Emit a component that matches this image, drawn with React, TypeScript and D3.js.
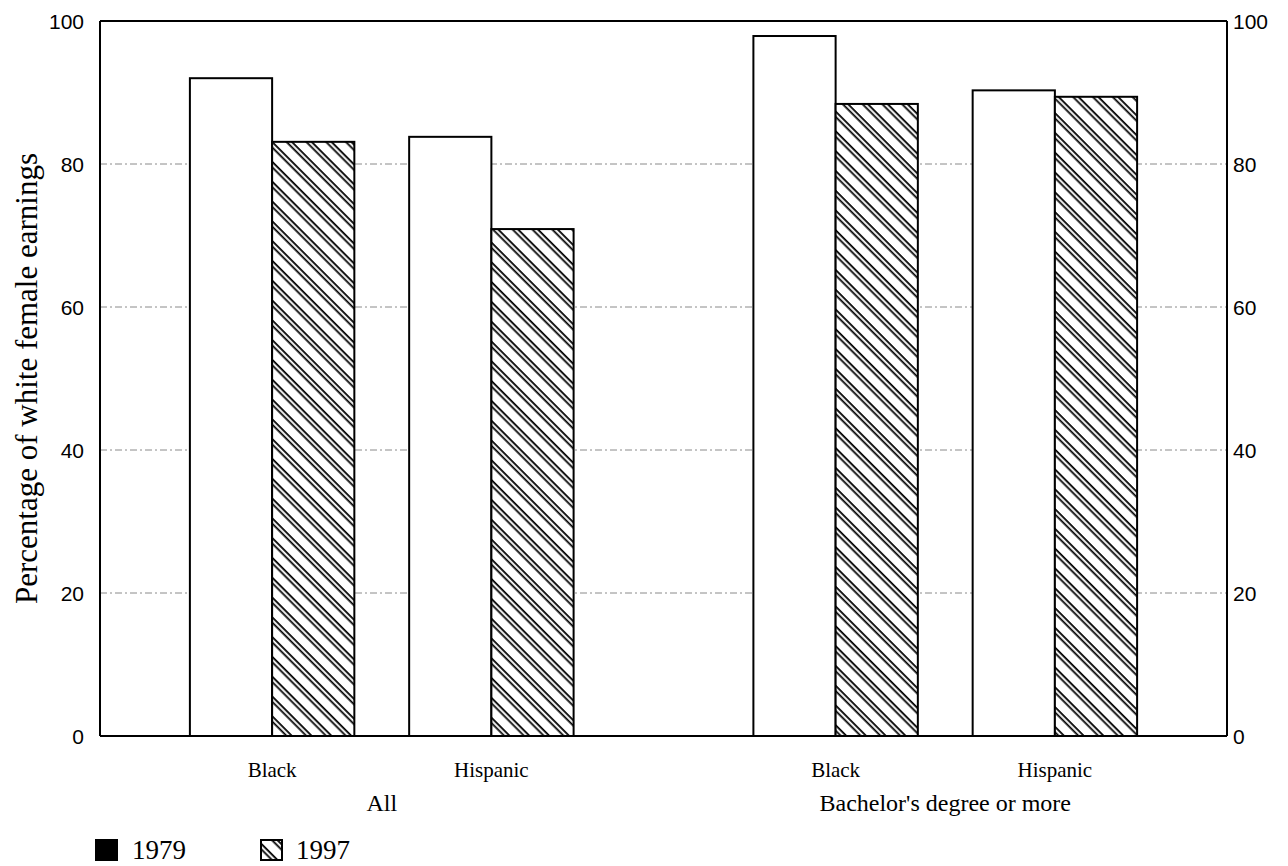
import React from "react";
import * as d3 from "d3";

const groups = ["All", "Bachelor's degree or more"];
const categories = ["Black", "Hispanic"];
const series = ["1979", "1997"];
// order: [All-Black, All-Hispanic], [Bachelor-Black, Bachelor-Hispanic]
const values1979 = [[92.0, 83.8], [97.9, 90.3]];
const values1997 = [[83.1, 70.9], [88.4, 89.4]];
const yTicks = [0, 20, 40, 60, 80, 100];
const gridTicks = [20, 40, 60, 80];

const W = 1288;
const H = 866;
const left = 100;
const right = 1227;
const top = 21;
const bottom = 736;

const serif = "'Liberation Serif', 'Times New Roman', serif";
const sans = "'Liberation Sans', Arial, Helvetica, sans-serif";

export default function App() {
  const y = d3.scaleLinear().domain([0, 100]).range([bottom, top]);
  const xGroup = d3.scaleBand<string>().domain(groups).range([left, right]).padding(0);
  const xCat = d3
    .scaleBand<string>()
    .domain(categories)
    .range([0, xGroup.bandwidth()])
    .paddingInner(0.25)
    .paddingOuter(0.41);
  const xSer = d3.scaleBand<string>().domain(series).range([0, xCat.bandwidth()]).padding(0);

  const bars: React.ReactNode[] = [];
  groups.forEach((g, gi) => {
    categories.forEach((c, ci) => {
      const vals = [values1979[gi][ci], values1997[gi][ci]];
      series.forEach((s, si) => {
        const x0 = (xGroup(g) as number) + (xCat(c) as number) + (xSer(s) as number);
        const v = vals[si];
        bars.push(
          <rect
            key={`${g}-${c}-${s}`}
            x={x0}
            y={y(v)}
            width={xSer.bandwidth()}
            height={y(0) - y(v)}
            fill={si === 0 ? "#ffffff" : "url(#hatch)"}
            stroke="#000"
            strokeWidth={2}
          />
        );
      });
    });
  });

  return (
    <svg
      width={W}
      height={H}
      style={{ position: "absolute", left: 0, top: 0, background: "#fff" }}
    >
      <defs>
        <pattern
          id="hatch"
          patternUnits="userSpaceOnUse"
          width={14}
          height={14}
          patternTransform="rotate(-45)"
        >
          <rect x={0} y={0} width={14} height={14} fill="#fff" />
          <rect x={3.4} y={0} width={1.8} height={14} fill="#000" />
          <rect x={7.2} y={0} width={1.8} height={14} fill="#000" />
        </pattern>
      </defs>
      <rect x={0} y={0} width={W} height={H} fill="#fff" />

      {gridTicks.map((t) => (
        <line
          key={t}
          x1={left}
          x2={right}
          y1={y(t)}
          y2={y(t)}
          stroke="#8a8a8a"
          strokeWidth={1}
          strokeDasharray="7 3 2 3"
        />
      ))}

      {bars}

      {/* frame */}
      <line x1={left} x2={right} y1={top} y2={top} stroke="#000" strokeWidth={2} />
      <line x1={left} x2={left} y1={top} y2={bottom} stroke="#000" strokeWidth={2} />
      <line x1={right} x2={right} y1={top} y2={bottom} stroke="#000" strokeWidth={2} />
      <line x1={left} x2={right} y1={bottom} y2={bottom} stroke="#000" strokeWidth={2} />

      {/* y tick labels left & right */}
      {yTicks.map((t) => (
        <g key={t}>
          <text
            x={84}
            y={y(t)}
            dy="0.36em"
            textAnchor="end"
            fontFamily={sans}
            fontSize={21}
            fill="#000"
          >
            {t}
          </text>
          <text
            x={1233}
            y={y(t)}
            dy="0.36em"
            textAnchor="start"
            fontFamily={sans}
            fontSize={21}
            fill="#000"
          >
            {t}
          </text>
        </g>
      ))}

      {/* y axis title */}
      <text
        transform={`translate(37,${(top + bottom) / 2}) rotate(-90)`}
        textAnchor="middle"
        fontFamily={serif}
        fontSize={31}
        fill="#000"
      >
        Percentage of white female earnings
      </text>

      {/* category labels */}
      {groups.map((g) =>
        categories.map((c) => (
          <text
            key={`${g}-${c}`}
            x={(xGroup(g) as number) + (xCat(c) as number) + xCat.bandwidth() / 2}
            y={777}
            textAnchor="middle"
            fontFamily={serif}
            fontSize={21}
            fill="#000"
          >
            {c}
          </text>
        ))
      )}
      {groups.map((g) => (
        <text
          key={g}
          x={(xGroup(g) as number) + xGroup.bandwidth() / 2}
          y={811}
          textAnchor="middle"
          fontFamily={serif}
          fontSize={24}
          fill="#000"
        >
          {g}
        </text>
      ))}

      {/* legend */}
      <g>
        <rect x={95} y={839} width={23} height={22} fill="#000" />
        <text x={132} y={859} fontFamily={serif} fontSize={27} fill="#000">
          {series[0]}
        </text>
        <rect x={261} y={840} width={21} height={20} fill="url(#hatch)" stroke="#000" strokeWidth={2} />
        <text x={296} y={859} fontFamily={serif} fontSize={27} fill="#000">
          {series[1]}
        </text>
      </g>
    </svg>
  );
}
